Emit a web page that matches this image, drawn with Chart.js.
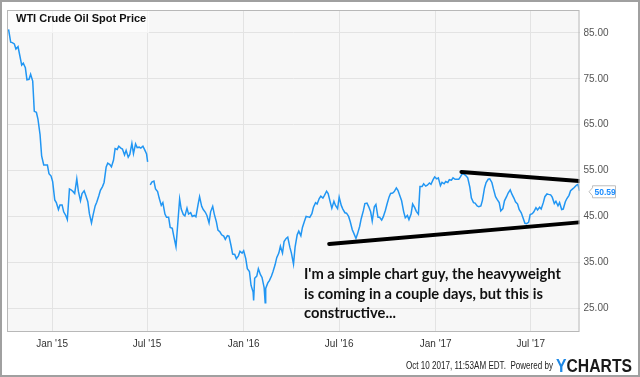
<!DOCTYPE html>
<html>
<head>
<meta charset="utf-8">
<script src="https://cdn.jsdelivr.net/npm/chart.js@4.4.1/dist/chart.umd.min.js"></script>
<style>
html, body { margin: 0; padding: 0; background: #fff; }
#wrap { width: 640px; height: 377px; position: relative; }
</style>
</head>
<body>
<div id="wrap"><canvas id="chart_wtiSpot"></canvas></div>
<script>
// WTI crude oil spot price (two points a week)
var dates = [
  '2014-10-10','2014-10-14','2014-10-17','2014-10-21','2014-10-24','2014-10-28','2014-10-31',
  '2014-11-04','2014-11-07','2014-11-11','2014-11-14','2014-11-18','2014-11-21','2014-11-25','2014-11-28',
  '2014-12-02','2014-12-05','2014-12-09','2014-12-12','2014-12-16','2014-12-19','2014-12-23','2014-12-26','2014-12-30',
  '2015-01-02','2015-01-06','2015-01-09','2015-01-13','2015-01-16','2015-01-20','2015-01-23','2015-01-27','2015-01-30',
  '2015-02-03','2015-02-06','2015-02-10','2015-02-13','2015-02-17','2015-02-20','2015-02-24','2015-02-27',
  '2015-03-03','2015-03-06','2015-03-10','2015-03-13','2015-03-17','2015-03-20','2015-03-24','2015-03-27','2015-03-31',
  '2015-04-03','2015-04-07','2015-04-10','2015-04-14','2015-04-17','2015-04-21','2015-04-24','2015-04-28',
  '2015-05-01','2015-05-05','2015-05-08','2015-05-12','2015-05-15','2015-05-19','2015-05-22','2015-05-26','2015-05-29',
  '2015-06-02','2015-06-05','2015-06-09','2015-06-12','2015-06-16','2015-06-19','2015-06-23','2015-06-26','2015-06-30',
  '2015-07-02','2015-07-03','2015-07-07','2015-07-10','2015-07-14','2015-07-17','2015-07-21','2015-07-24','2015-07-28','2015-07-31',
  '2015-08-04','2015-08-07','2015-08-11','2015-08-14','2015-08-18','2015-08-21','2015-08-25','2015-08-28',
  '2015-09-01','2015-09-04','2015-09-08','2015-09-11','2015-09-15','2015-09-18','2015-09-22','2015-09-25','2015-09-29',
  '2015-10-02','2015-10-06','2015-10-09','2015-10-13','2015-10-16','2015-10-20','2015-10-23','2015-10-27','2015-10-30',
  '2015-11-03','2015-11-06','2015-11-10','2015-11-13','2015-11-17','2015-11-20','2015-11-24','2015-11-27',
  '2015-12-01','2015-12-04','2015-12-08','2015-12-11','2015-12-15','2015-12-18','2015-12-22','2015-12-25','2015-12-29',
  '2016-01-01','2016-01-05','2016-01-08','2016-01-12','2016-01-15','2016-01-19','2016-01-20','2016-01-22','2016-01-26','2016-01-29',
  '2016-02-02','2016-02-05','2016-02-09','2016-02-11','2016-02-12','2016-02-16','2016-02-19','2016-02-23','2016-02-26',
  '2016-03-01','2016-03-04','2016-03-08','2016-03-11','2016-03-15','2016-03-18','2016-03-22','2016-03-25','2016-03-29',
  '2016-04-01','2016-04-05','2016-04-08','2016-04-12','2016-04-15','2016-04-19','2016-04-22','2016-04-26','2016-04-29',
  '2016-05-03','2016-05-06','2016-05-10','2016-05-13','2016-05-17','2016-05-20','2016-05-24','2016-05-27','2016-05-31',
  '2016-06-03','2016-06-07','2016-06-10','2016-06-14','2016-06-17','2016-06-21','2016-06-24','2016-06-28',
  '2016-07-01','2016-07-05','2016-07-08','2016-07-12','2016-07-15','2016-07-19','2016-07-22','2016-07-26','2016-07-29',
  '2016-08-02','2016-08-05','2016-08-09','2016-08-12','2016-08-16','2016-08-19','2016-08-23','2016-08-26','2016-08-30',
  '2016-09-02','2016-09-06','2016-09-09','2016-09-13','2016-09-16','2016-09-20','2016-09-23','2016-09-27','2016-09-30',
  '2016-10-04','2016-10-07','2016-10-11','2016-10-14','2016-10-18','2016-10-21','2016-10-25','2016-10-28',
  '2016-11-01','2016-11-04','2016-11-08','2016-11-11','2016-11-15','2016-11-18','2016-11-22','2016-11-25','2016-11-29',
  '2016-12-02','2016-12-06','2016-12-09','2016-12-13','2016-12-16','2016-12-20','2016-12-23','2016-12-27','2016-12-30',
  '2017-01-03','2017-01-06','2017-01-10','2017-01-13','2017-01-17','2017-01-20','2017-01-24','2017-01-27','2017-01-31',
  '2017-02-03','2017-02-07','2017-02-10','2017-02-14','2017-02-17','2017-02-21','2017-02-24','2017-02-28',
  '2017-03-03','2017-03-07','2017-03-10','2017-03-14','2017-03-17','2017-03-21','2017-03-24','2017-03-28','2017-03-31',
  '2017-04-04','2017-04-07','2017-04-11','2017-04-14','2017-04-18','2017-04-21','2017-04-25','2017-04-28',
  '2017-05-02','2017-05-05','2017-05-09','2017-05-12','2017-05-16','2017-05-19','2017-05-23','2017-05-26','2017-05-30',
  '2017-06-02','2017-06-06','2017-06-09','2017-06-13','2017-06-16','2017-06-20','2017-06-23','2017-06-27','2017-06-30',
  '2017-07-04','2017-07-07','2017-07-11','2017-07-14','2017-07-18','2017-07-21','2017-07-25','2017-07-28',
  '2017-08-01','2017-08-04','2017-08-08','2017-08-11','2017-08-15','2017-08-18','2017-08-22','2017-08-25','2017-08-29',
  '2017-09-01','2017-09-05','2017-09-08','2017-09-12','2017-09-15','2017-09-19','2017-09-22','2017-09-26','2017-09-29',
  '2017-10-02'
];
var prices = [
  85.8, 83.0, 82.9, 82.6, 81.5, 82.0, 80.3,
  78.0, 78.4, 77.4, 74.8, 74.9, 76.0, 74.5, 67.9,
  67.7, 66.2, 62.8, 58.2, 56.2, 56.2, 56.2, 54.3, 53.8,
  52.6, 48.6, 48.0, 46.5, 47.5, 47.5, 46.0, 45.2, 44.3,
  51.0, 50.8, 50.4, 50.0, 53.2, 50.5, 48.4, 50.0,
  50.6, 49.6, 48.2, 45.6, 43.6, 45.3, 47.3, 48.1, 49.5,
  50.7, 51.5, 52.4, 55.8, 56.6, 56.3, 55.8, 57.3,
  59.8, 59.6, 60.3, 59.9, 59.7, 58.4, 59.4, 57.9, 58.5,
  60.9, 58.7, 60.8, 60.0, 60.1, 59.9, 60.3, 59.6, 58.6,
  56.9, null, 51.9, 52.5, 52.7, 51.0, 50.4, 49.0, 47.4, 48.0,
  45.5, 44.8, 44.8, 42.6, 42.4, 40.6, 38.4, 42.8,
  48.8, 46.6, 45.4, 45.1, 46.8, 45.5, 45.8, 45.0, 45.2,
  44.9, 47.5, 49.3, 47.2, 46.5, 45.9, 45.2, 43.6, 46.0,
  47.2, 45.5, 43.8, 42.0, 41.6, 41.0, 40.7, 40.0,
  40.8, 40.7, 38.6, 36.8, 36.7, 35.8, 36.4, 37.4, 37.0,
  37.5, 35.8, 33.6, 33.0, 30.0, 28.5, 26.7, 31.5, 32.0, 33.6,
  32.3, 31.7, 29.5, 26.2, 29.3, 30.5, 31.0, 32.0, 33.0,
  34.5, 36.0, 37.0, 38.5, 37.0, 39.5, 40.2, 40.5, 38.3,
  37.0, 34.6, 38.3, 41.0, 41.8, 40.8, 42.6, 44.0, 45.0,
  44.9, 44.8, 45.6, 47.0, 48.0, 47.7, 48.9, 49.4, 49.0,
  49.6, 50.5, 50.0, 48.1, 46.8, 48.3, 47.4, 46.7,
  49.2, 47.4, 46.6, 45.8, 45.7, 45.0, 43.9, 42.1, 41.3,
  40.2, 41.2, 42.8, 44.5, 46.2, 47.8, 47.9, 47.2, 46.0,
  44.0, 47.1, 47.6, 44.8, 44.8, 44.2, 44.9, 46.3, 47.6,
  49.2, 50.0, 50.1, 50.4, 51.2, 50.7, 49.4, 48.4,
  46.0, 44.7, 45.2, 44.3, 45.5, 47.7, 46.9, 46.1, 45.5,
  51.5, 51.5, 52.1, 51.6, 51.8, 52.3, 52.0, 53.0, 53.6,
  53.2, 53.4, 51.7, 52.4, 52.1, 52.6, 52.4, 53.0, 52.9,
  53.4, 53.1, 53.1, 53.1, 53.6, 54.4, 54.2, 53.8,
  53.4, 51.4, 49.0, 48.0, 47.9, 47.3, 47.1, 47.3, 48.5,
  51.2, 52.4, 53.1, 53.2, 52.4, 51.0, 49.3, 48.7,
  48.0, 46.2, 46.7, 48.4, 49.3, 50.1, 50.8, 49.9, 49.0,
  48.2, 47.7, 46.5, 45.8, 44.8, 43.5, 43.4, 43.7, 45.4,
  45.6, 46.0, 46.9, 46.4, 47.0, 46.6, 48.0, 49.3,
  49.9, 49.8, 49.7, 49.2, 47.8, 48.3, 47.3, 48.0, 46.5,
  46.6, 48.2, 48.9, 49.6, 50.6, 51.0, 51.3, 51.8, 52.0,
  50.59
];

// hand drawn trend lines
var upperDates = ['2017-02-19', '2017-10-01'];
var upperTrend = [54.7, 52.7];
var lowerDates = ['2016-06-12', '2017-10-01'];
var lowerTrend = [39.0, 43.7];

var tickDates = ['2015-01-01', '2015-07-01', '2016-01-01', '2016-07-01', '2017-01-01', '2017-07-01'];
var tickLabels = ["Jan '15", "Jul '15", "Jan '16", "Jul '16", "Jan '17", "Jul '17"];
var yTicks = [25, 35, 45, 55, 65, 75, 85];

var noteLines = [
  "I'm a simple chart guy, the heavyweight",
  "is coming in a couple days, but this is",
  "constructive..."
];

function dayNum(s) {
  var p = s.split('-');
  return (Date.UTC(+p[0], +p[1] - 1, +p[2]) - Date.UTC(2015, 0, 1)) / 86400000;
}
function points(ds, vs) {
  var out = [];
  for (var i = 0; i < Math.min(ds.length, vs.length); i++) out.push({ x: dayNum(ds[i]), y: vs[i] });
  return out;
}
function fitText(ctx, text, x, y, font, width, align) {
  ctx.save();
  ctx.font = font;
  var w = ctx.measureText(text).width;
  var sx = width / w;
  ctx.textAlign = 'left';
  ctx.translate(align === 'right' ? x - width : x, y);
  ctx.scale(sx, 1);
  ctx.fillText(text, 0, 0);
  ctx.restore();
}

var lastPrice = prices[prices.length - 1];

var chart_wtiSpot = new Chart(document.getElementById('chart_wtiSpot'), {
  type: 'line',
  data: {
    datasets: [
      {
        label: 'WTI Crude Oil Spot Price',
        data: points(dates, prices),
        borderColor: '#2196f3',
        borderWidth: 1.5,
        pointRadius: 0,
        tension: 0,
        spanGaps: false,
        order: 1
      },
      {
        label: 'upper',
        data: points(upperDates, upperTrend),
        borderColor: '#000',
        borderWidth: 4,
        borderCapStyle: 'round',
        pointRadius: 0,
        order: 0
      },
      {
        label: 'lower',
        data: points(lowerDates, lowerTrend),
        borderColor: '#000',
        borderWidth: 4,
        borderCapStyle: 'round',
        pointRadius: 0,
        order: 0
      }
    ]
  },
  options: {
    animation: false,
    responsive: true,
    maintainAspectRatio: false,
    layout: { padding: { left: 7, top: 8, right: 0, bottom: 0 } },
    plugins: {
      legend: { display: false },
      tooltip: { enabled: false },
      title: { display: false }
    },
    scales: {
      x: {
        type: 'linear',
        min: dayNum('2014-10-07'),
        max: dayNum('2017-10-02'),
        afterBuildTicks: function (scale) {
          scale.ticks = tickDates.map(function (d) { return { value: dayNum(d) }; });
        },
        afterFit: function (scale) { scale.height = 45; },
        grid: { color: '#e3e3e3', drawTicks: false },
        border: { display: false },
        ticks: {
          autoSkip: false,
          maxRotation: 0,
          padding: 6,
          color: '#333',
          font: { family: 'Liberation Sans, Arial', size: 10 },
          callback: function (value, index) { return tickLabels[index]; }
        }
      },
      y: {
        position: 'right',
        min: 19.8,
        max: 90,
        afterBuildTicks: function (scale) {
          scale.ticks = yTicks.map(function (v) { return { value: v }; });
        },
        afterFit: function (scale) { scale.width = 60.5; },
        grid: { color: '#e3e3e3', drawTicks: false },
        border: { display: false },
        ticks: {
          padding: 4,
          color: '#555',
          font: { family: 'Liberation Sans, Arial', size: 10 },
          callback: function (value) { return Number(value).toFixed(2); }
        }
      }
    }
  },
  plugins: [{
    id: 'ychartsFrame',
    beforeDraw: function (chart) {
      var ctx = chart.ctx, a = chart.chartArea;
      ctx.save();
      ctx.fillStyle = '#fff';
      ctx.fillRect(0, 0, chart.width, chart.height);
      ctx.fillStyle = '#f7f7f7';
      ctx.fillRect(a.left, a.top, a.right - a.left, a.bottom - a.top);
      ctx.restore();
    },
    beforeDatasetsDraw: function (chart) {
      var ctx = chart.ctx, a = chart.chartArea;
      ctx.save();
      ctx.fillStyle = 'rgba(255,255,255,0.6)';
      ctx.fillRect(a.left + 1, a.top + 1, 141, 22);
      ctx.restore();
    },
    afterDraw: function (chart) {
      var ctx = chart.ctx, a = chart.chartArea;
      ctx.save();
      // plot border and outer frame
      ctx.strokeStyle = '#b8b8b8';
      ctx.lineWidth = 1;
      ctx.strokeRect(a.left + 0.5, a.top + 0.5, a.right - a.left - 1, a.bottom - a.top - 1);
      ctx.strokeStyle = '#a0a0a0';
      ctx.lineWidth = 2;
      ctx.strokeRect(1, 1, chart.width - 2, chart.height - 2);

      // title
      ctx.fillStyle = '#111';
      ctx.font = 'bold 11px "Liberation Sans", Arial';
      ctx.textBaseline = 'alphabetic';
      ctx.fillText('WTI Crude Oil Spot Price', 16, 22);

      // note
      ctx.fillStyle = '#111';
      noteLines.forEach(function (t, i) {
        var f = 'bold 15px Lato, "Open Sans", sans-serif';
        ctx.font = f;
        var w0 = ctx.measureText(noteLines[0]).width;
        var w = ctx.measureText(t).width * 257 / w0;
        fitText(ctx, t, 304, 279 + i * 19.5, f, w, 'left');
      });

      // last value badge
      var py = chart.scales.y.getPixelForValue(lastPrice) + 1;
      var bx = a.right + 13;
      ctx.beginPath();
      ctx.moveTo(bx, py - 5.5);
      ctx.lineTo(bx, py - 5.5);
      ctx.lineTo(bx, py - 5.5);
      ctx.moveTo(bx, py - 6);
      ctx.lineTo(bx + 23, py - 6);
      ctx.lineTo(bx + 23, py + 6);
      ctx.lineTo(bx, py + 6);
      ctx.lineTo(bx, py + 4);
      ctx.lineTo(bx - 3.5, py);
      ctx.lineTo(bx, py - 4);
      ctx.closePath();
      ctx.fillStyle = '#fff';
      ctx.fill();
      ctx.strokeStyle = '#bdbdbd';
      ctx.lineWidth = 1;
      ctx.stroke();
      ctx.fillStyle = '#1a8cff';
      ctx.font = 'bold 8.5px "Liberation Sans", Arial';
      ctx.textBaseline = 'middle';
      ctx.fillText(lastPrice.toFixed(2), bx + 2, py + 0.5);

      // footer
      ctx.textBaseline = 'alphabetic';
      ctx.fillStyle = '#222';
      fitText(ctx, 'Oct 10 2017, 11:53AM EDT.  Powered by', 553, 369, '10px "Liberation Sans", Arial', 147, 'right');
      ctx.font = 'bold 19px "Liberation Sans", Arial';
      var wy = ctx.measureText('Y').width, wall = ctx.measureText('YCHARTS').width;
      var sx = 76 / wall;
      ctx.save();
      ctx.translate(556, 372);
      ctx.scale(sx, 1);
      ctx.fillStyle = '#1e88e5';
      ctx.fillText('Y', 0, 0);
      ctx.fillStyle = '#1a1a1a';
      ctx.fillText('CHARTS', wy, 0);
      ctx.restore();
      ctx.restore();
    }
  }]
});
</script>
</body>
</html>
